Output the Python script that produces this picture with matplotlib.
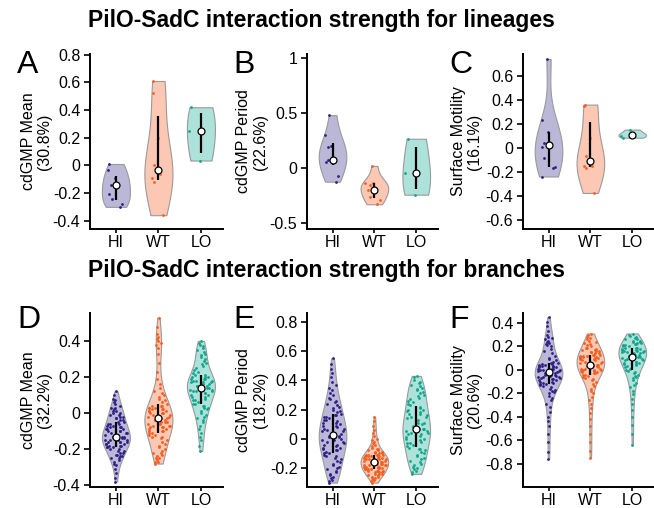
import numpy as np
import matplotlib
matplotlib.use('Agg')
import matplotlib.pyplot as plt

plt.rcParams['font.family'] = ['Liberation Sans', 'DejaVu Sans']

groups = ['HI', 'WT', 'LO']
dot_colors = ['#2e1f85', '#f65d1e', '#12a58c']
fill_colors = ['#bbb7d7', '#fcc8b4', '#ace2d9']

# ---- lineages (top row) ----
lin_mean_hi = [0.01, -0.03, -0.09, -0.14, -0.14, -0.21, -0.24, -0.28, -0.30]
lin_mean_wt = [0.61, 0.52, 0.20, 0.0, -0.065, -0.094, -0.123, -0.36]
lin_mean_lo = [0.42, 0.245, 0.035]

lin_period_hi = [0.485, 0.30, 0.208, 0.196, 0.077, 0.062, 0.077, -0.066, -0.12]
lin_period_wt = [0.023, -0.131, -0.131, -0.26, -0.194, -0.20, -0.146, -0.289, -0.325]
lin_period_lo = [0.27, -0.042, -0.238]

lin_motil_hi = [0.743, 0.238, 0.134, 0.045, 0.045, 0.008, -0.08, -0.16, -0.17, -0.237]
lin_motil_wt = [0.352, 0.363, 0.087, -0.07, -0.153, -0.153, -0.167, -0.374]
lin_motil_lo = [0.087, 0.105, 0.12, 0.154]

# ---- branches (bottom row) ----
br_mean_hi = [-0.38, -0.36, -0.33, -0.31, -0.29, -0.28, -0.27, -0.26,
              -0.25, -0.25, -0.24, -0.24, -0.23, -0.23, -0.22, -0.22, -0.21, -0.21, -0.20, -0.20, -0.19, -0.19,
              -0.19, -0.18, -0.18, -0.18, -0.17, -0.17, -0.17, -0.16, -0.16, -0.16, -0.16, -0.15, -0.15, -0.15,
              -0.15, -0.14, -0.14, -0.14, -0.14, -0.13, -0.13, -0.13, -0.13,
              -0.13, -0.12, -0.12, -0.12, -0.11, -0.11, -0.11, -0.10, -0.10, -0.10, -0.09, -0.09, -0.09, -0.08,
              -0.08, -0.08, -0.07, -0.07, -0.06, -0.06, -0.06, -0.05, -0.05,
              -0.04, -0.04, -0.03, -0.03, -0.02, -0.02, -0.01, -0.01, 0.00, 0.00, 0.01, 0.01, 0.02, 0.03, 0.03,
              0.04, 0.05, 0.06, 0.07, 0.08, 0.10, 0.12]
br_mean_wt = [-0.28, -0.27, -0.27, -0.26, -0.25, -0.25, -0.24, -0.23, -0.22, -0.22, -0.21, -0.20, -0.19,
              -0.18, -0.17, -0.16, -0.15, -0.14, -0.13, -0.13, -0.12, -0.12,
              -0.11, -0.11, -0.10, -0.10, -0.10, -0.09, -0.09, -0.08, -0.08, -0.08, -0.07, -0.07, -0.07, -0.06,
              -0.06, -0.06, -0.05, -0.05, -0.05, -0.04, -0.04, -0.04, -0.03,
              -0.03, -0.03, -0.02, -0.02, -0.02, -0.01, -0.01, 0.00, 0.00, 0.00, 0.01, 0.01, 0.01, 0.02, 0.02,
              0.02, 0.03, 0.03, 0.03, 0.04, 0.04, 0.04, 0.05,
              0.06, 0.07, 0.08, 0.09, 0.10, 0.11, 0.12, 0.14, 0.16, 0.19, 0.23, 0.28, 0.33, 0.36, 0.38, 0.39,
              0.40, 0.41, 0.42, 0.44, 0.48, 0.53]
br_mean_lo = [-0.21, -0.18, -0.15, -0.13, -0.11, -0.09, -0.07, -0.05, -0.04, -0.03, -0.02, -0.01, 0.00,
              0.01, 0.02, 0.03, 0.03, 0.04, 0.04, 0.05,
              0.05, 0.06, 0.07, 0.07, 0.08, 0.09, 0.09, 0.10, 0.10, 0.11, 0.11, 0.12, 0.12, 0.12, 0.13, 0.13,
              0.13, 0.14, 0.14, 0.14,
              0.14, 0.15, 0.15, 0.15, 0.16, 0.16, 0.16, 0.17, 0.17, 0.17, 0.18, 0.18, 0.18, 0.19, 0.19, 0.19,
              0.20, 0.20, 0.20, 0.21,
              0.21, 0.22, 0.23, 0.24, 0.25, 0.26, 0.27, 0.28, 0.29, 0.30, 0.31, 0.32, 0.33, 0.34, 0.35, 0.36,
              0.37, 0.38, 0.39, 0.40]

br_period_hi = [-0.30, -0.29, -0.28, -0.27, -0.26, -0.25, -0.24, -0.23, -0.22, -0.21, -0.20, -0.19, -0.18,
                -0.17, -0.16, -0.15, -0.14, -0.13, -0.12, -0.12, -0.11, -0.10,
                -0.10, -0.09, -0.08, -0.08, -0.07, -0.06, -0.06, -0.05, -0.04, -0.04, -0.03, -0.02, -0.02, -0.01,
                -0.01, 0.00, 0.00, 0.01, 0.01, 0.01, 0.02, 0.02, 0.02,
                0.03, 0.03, 0.04, 0.05, 0.05, 0.06, 0.07, 0.07, 0.08, 0.09, 0.09, 0.10, 0.11, 0.11, 0.12, 0.13,
                0.13, 0.14, 0.15, 0.15, 0.16, 0.16, 0.17,
                0.18, 0.19, 0.20, 0.21, 0.22, 0.23, 0.24, 0.25, 0.26, 0.27, 0.28, 0.30, 0.31, 0.33, 0.35, 0.37,
                0.39, 0.42, 0.45, 0.48, 0.51, 0.55]
br_period_wt = [-0.30, -0.29, -0.28, -0.28, -0.27, -0.27, -0.26, -0.26, -0.25, -0.25, -0.24, -0.24, -0.24,
                -0.23, -0.23, -0.23, -0.22, -0.22, -0.22, -0.22, -0.21, -0.21,
                -0.21, -0.21, -0.20, -0.20, -0.20, -0.20, -0.19, -0.19, -0.19, -0.19, -0.18, -0.18, -0.18, -0.18,
                -0.17, -0.17, -0.17, -0.17, -0.17, -0.16, -0.16, -0.16, -0.16,
                -0.16, -0.15, -0.15, -0.15, -0.15, -0.14, -0.14, -0.14, -0.14, -0.13, -0.13, -0.13, -0.13, -0.12,
                -0.12, -0.12, -0.12, -0.12, -0.11, -0.11, -0.11, -0.11, -0.11,
                -0.10, -0.10, -0.10, -0.09, -0.09, -0.08, -0.08, -0.07, -0.07, -0.06, -0.05, -0.04, -0.03, -0.02,
                -0.01, 0.00, 0.02, 0.04, 0.06, 0.09, 0.12, 0.15]
br_period_lo = [-0.24, -0.23, -0.22, -0.21, -0.20, -0.19, -0.18, -0.17, -0.16, -0.15, -0.14, -0.13, -0.12,
                -0.11, -0.10, -0.09, -0.08, -0.07, -0.07, -0.06,
                -0.05, -0.04, -0.03, -0.03, -0.02, -0.01, 0.00, 0.00, 0.01, 0.02, 0.03, 0.03, 0.04, 0.04, 0.05,
                0.05, 0.06, 0.06, 0.07, 0.07,
                0.07, 0.08, 0.09, 0.10, 0.11, 0.11, 0.12, 0.13, 0.14, 0.15, 0.15, 0.16, 0.17, 0.17, 0.18, 0.19,
                0.20, 0.20, 0.21, 0.22,
                0.23, 0.24, 0.25, 0.26, 0.27, 0.28, 0.29, 0.30, 0.31, 0.32, 0.33, 0.34, 0.35, 0.36, 0.37, 0.38,
                0.39, 0.40, 0.42, 0.43]

br_motil_hi = [-0.76, -0.70, -0.62, -0.55, -0.48, -0.44, -0.40, -0.36, -0.32, -0.29, -0.26, -0.24, -0.22,
               -0.20, -0.19, -0.18, -0.17, -0.16, -0.15, -0.14, -0.13, -0.12,
               -0.12, -0.11, -0.11, -0.10, -0.10, -0.09, -0.09, -0.08, -0.08, -0.07, -0.07, -0.06, -0.06, -0.06,
               -0.05, -0.05, -0.05, -0.04, -0.04, -0.04, -0.03, -0.03, -0.02,
               -0.02, -0.02, -0.01, -0.01, -0.01, 0.00, 0.00, 0.00, 0.01, 0.01, 0.01, 0.02, 0.02, 0.02, 0.03,
               0.03, 0.03, 0.04, 0.04, 0.05, 0.05, 0.06, 0.06,
               0.07, 0.08, 0.09, 0.10, 0.12, 0.14, 0.16, 0.18, 0.20, 0.21, 0.22, 0.23, 0.24, 0.25, 0.26, 0.27,
               0.28, 0.30, 0.33, 0.37, 0.41, 0.45]
br_motil_wt = [-0.75, -0.69, -0.62, -0.55, -0.48, -0.42, -0.37, -0.33, -0.29, -0.26, -0.23, -0.20, -0.18,
               -0.16, -0.14, -0.12, -0.10, -0.09, -0.08, -0.07, -0.06, -0.05,
               -0.04, -0.04, -0.03, -0.03, -0.02, -0.02, -0.01, -0.01, 0.00, 0.00, 0.00, 0.01, 0.01, 0.01, 0.02,
               0.02, 0.02, 0.03, 0.03, 0.03, 0.03, 0.04, 0.04,
               0.04, 0.05, 0.05, 0.06, 0.06, 0.07, 0.07, 0.08, 0.08, 0.09, 0.09, 0.10, 0.10, 0.10, 0.11, 0.11,
               0.11, 0.12, 0.12, 0.12, 0.13, 0.13, 0.13,
               0.14, 0.14, 0.15, 0.15, 0.16, 0.16, 0.17, 0.17, 0.18, 0.19, 0.19, 0.20, 0.21, 0.22, 0.23, 0.24,
               0.25, 0.26, 0.27, 0.28, 0.30, 0.31]
br_motil_lo = [-0.64, -0.55, -0.47, -0.40, -0.34, -0.29, -0.25, -0.21, -0.18, -0.15, -0.13, -0.11, -0.09,
               -0.07, -0.06, -0.05, -0.04, -0.03, -0.02, -0.01,
               0.00, 0.01, 0.02, 0.03, 0.04, 0.05, 0.05, 0.06, 0.06, 0.07, 0.07, 0.08, 0.08, 0.09, 0.09, 0.10,
               0.10, 0.10, 0.11, 0.11,
               0.11, 0.12, 0.12, 0.13, 0.13, 0.14, 0.14, 0.14, 0.15, 0.15, 0.15, 0.16, 0.16, 0.16, 0.17, 0.17,
               0.18, 0.18, 0.19, 0.19,
               0.19, 0.20, 0.20, 0.21, 0.21, 0.22, 0.22, 0.23, 0.23, 0.24, 0.24, 0.25, 0.25, 0.26, 0.26, 0.27,
               0.28, 0.29, 0.30, 0.31]

panel_letters = ['A', 'B', 'C', 'D', 'E', 'F']
panel_ylabels = ['cdGMP Mean\n(30.8%)', 'cdGMP Period\n(22.6%)', 'Surface Motility\n(16.1%)',
                 'cdGMP Mean\n(32.2%)', 'cdGMP Period\n(18.2%)', 'Surface Motility\n(20.6%)']
panel_ticks = [[-0.4, -0.2, 0, 0.2, 0.4, 0.6, 0.8],
               [-0.5, 0, 0.5, 1],
               [-0.6, -0.4, -0.2, 0, 0.2, 0.4, 0.6],
               [-0.4, -0.2, 0, 0.2, 0.4],
               [-0.2, 0, 0.2, 0.4, 0.6, 0.8],
               [-0.8, -0.6, -0.4, -0.2, 0, 0.2, 0.4]]
panel_data = [[lin_mean_hi, lin_mean_wt, lin_mean_lo],
              [lin_period_hi, lin_period_wt, lin_period_lo],
              [lin_motil_hi, lin_motil_wt, lin_motil_lo],
              [br_mean_hi, br_mean_wt, br_mean_lo],
              [br_period_hi, br_period_wt, br_period_lo],
              [br_motil_hi, br_motil_wt, br_motil_lo]]
panel_ylims = [(-0.46, 0.805), (-0.55, 1.04), (-0.675, 0.785),
               (-0.41, 0.555), (-0.33, 0.86), (-1.0, 0.485)]


def violin(ax, vals, pos, fill, dot):
    v = np.asarray(vals, dtype=float)
    bw = v.std(ddof=1) * len(v) ** (-0.2)
    grid = np.linspace(v.min(), v.max(), 200)
    dens = np.exp(-0.5 * ((grid[:, None] - v[None, :]) / bw) ** 2).sum(1)
    half = 0.33 * dens / dens.max()
    ax.fill_betweenx(grid, pos - half, pos + half, facecolor=fill,
                     edgecolor='#9a9a9a', lw=0.8, zorder=1)
    # spread the dots inside the violin outline
    idx = np.arange(len(v))
    frac = (idx * idx * 0.5 * np.sqrt(2) + idx * 0.31) % 1 - 0.5
    w = np.interp(v, grid, half)
    ax.scatter(pos + 2 * frac * w * 0.85, v, s=4, color=dot, lw=0, zorder=2)
    q1, med, q3 = np.percentile(v, [25, 50, 75], method='hazen')
    ax.plot([pos, pos], [q1, q3], color='black', lw=1.6, zorder=3, solid_capstyle='butt')
    ax.plot(pos, med, 'o', ms=5, mfc='white', mec='black', mew=0.9, zorder=4)


fig = plt.figure(figsize=(6.54, 5.08), dpi=100)

lefts = [90, 307, 523]
widths = [133, 131, 131]
rows = [(54, 229), (313, 487)]

for i in range(6):
    r, c = divmod(i, 3)
    top, bot = rows[r]
    ax = fig.add_axes([lefts[c] / 654, 1 - bot / 508, widths[c] / 654, (bot - top) / 508])
    for k, vals in enumerate(panel_data[i]):
        violin(ax, vals, k, fill_colors[k], dot_colors[k])
    ax.set_xlim(-0.61, 2.52)
    ax.set_ylim(*panel_ylims[i])
    ax.set_xticks(range(3))
    ax.set_xticklabels(groups)
    ax.set_yticks(panel_ticks[i])
    ax.set_yticklabels([f'{t:g}' for t in panel_ticks[i]])
    ax.tick_params(labelsize=11.5, width=1.2, color='black')
    ax.tick_params(axis='x', length=3, pad=1.5)
    ax.tick_params(axis='y', length=4, pad=3)
    for s in ['top', 'right']:
        ax.spines[s].set_visible(False)
    for s in ['left', 'bottom']:
        ax.spines[s].set_linewidth(1.4)
    ax.set_ylabel(panel_ylabels[i], fontsize=11.5, linespacing=1.1, ha='center', va='center')
    ax.yaxis.set_label_coords([-0.405, -0.42, -0.43][c], 0.5)
    lx = [17, 233, 449][c]
    ly = [73, 328][r]
    fig.text(lx / 654, 1 - ly / 508, panel_letters[i], fontsize=23, ha='left', va='baseline')

fig.text(321 / 654, 1 - 20 / 508, 'PilO-SadC interaction strength for lineages',
         fontsize=16.5, fontweight='bold', ha='center', va='center')
fig.text(326 / 654, 1 - 270 / 508, 'PilO-SadC interaction strength for branches',
         fontsize=16.5, fontweight='bold', ha='center', va='center')

fig.savefig('out.png', dpi=100)
